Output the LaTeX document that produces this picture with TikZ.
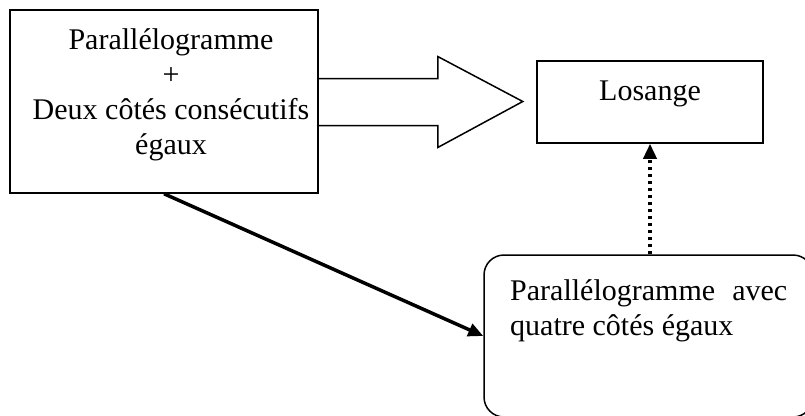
\documentclass[tikz,border=0pt]{standalone}
\usepackage{fontspec}
\setmainfont{Liberation Serif}
\usetikzlibrary{arrows.meta,positioning,calc}

\begin{document}
\begin{tikzpicture}[
  x=1pt, y=-1pt,
  font=\fontsize{30}{35}\selectfont,
  box/.style={draw, line width=1.5pt, inner sep=0pt},
  txt/.style={inner sep=0pt},
  link/.style={->, line width=3.5pt},
  >={Triangle[length=15pt, width=13pt]}
]
\useasboundingbox (0,0) rectangle (805,415);
% Boxes
\node[box, minimum width=308pt, minimum height=183pt] (pg) at (164,101.5) {};
\node[txt, align=center, anchor=north] (pgtext) at (171,28) {Parallélogramme\\+\\Deux côtés consécutifs\\égaux};
\node[box, minimum width=226pt, minimum height=82pt] (los) at (650,102) {};
\node[txt, anchor=base] (lostext) at (650,100) {Losange};
\node[box, rounded corners=20pt, minimum width=329pt, minimum height=162pt] (rb) at (648.5,336) {};
\node[txt, text width=277pt, align=justify, anchor=north west] (rbtext) at (510,279) {Parallélogramme avec quatre côtés égaux};

% Block arrow
\draw[line width=1.5pt, line join=miter] ($(pg.east)+(0,-23)$) -- ++(119,0) -- ++(0,-22)
  -- ++(85,45) -- ++(-85,46) -- ++(0,-22) -- ++(-119,0);

% Connectors
\draw[link] (pg.south) -- (rb.west);
\draw[link, dash pattern=on 3pt off 4pt] (rb.north -| los.south) -- (los.south);
\end{tikzpicture}
\end{document}
